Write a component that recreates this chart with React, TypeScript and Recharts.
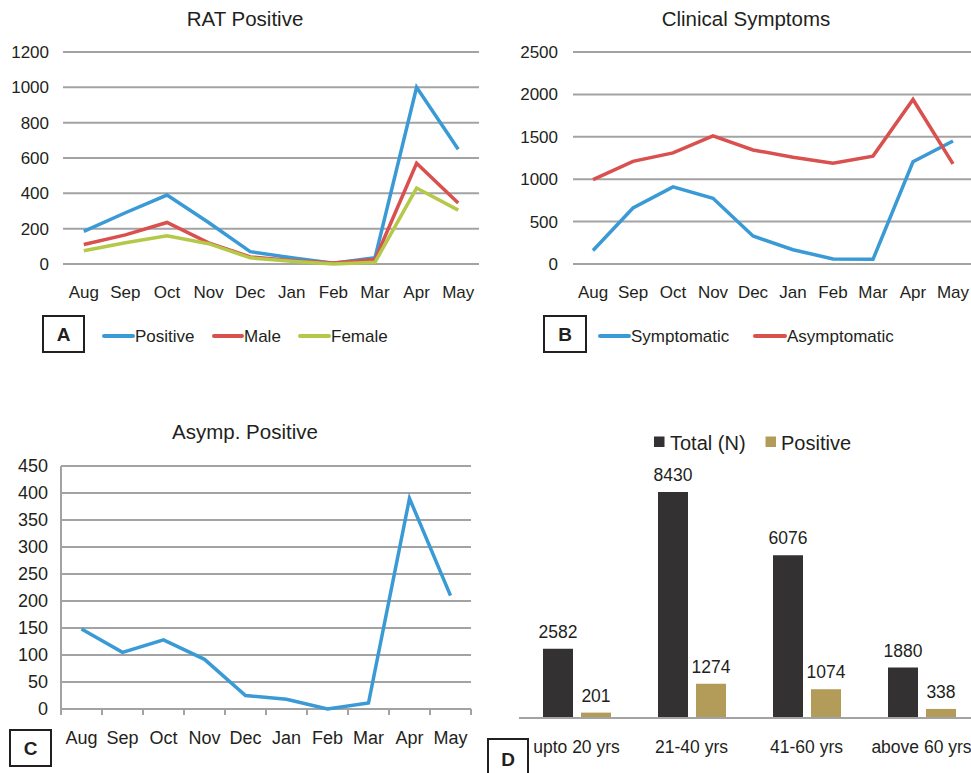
import React from 'react';
import { LineChart, Line, BarChart, Bar, XAxis, YAxis, CartesianGrid, LabelList } from 'recharts';

const months = ['Aug', 'Sep', 'Oct', 'Nov', 'Dec', 'Jan', 'Feb', 'Mar', 'Apr', 'May'];

// Panel A: RAT Positive
const ratPositive = [185, 290, 390, 235, 70, 35, 5, 35, 1000, 650];
const ratMale = [110, 165, 235, 120, 40, 20, 5, 25, 570, 345];
const ratFemale = [75, 120, 160, 115, 35, 15, 0, 10, 430, 305];
const ticksA = [0, 200, 400, 600, 800, 1000, 1200];

// Panel B: Clinical Symptoms
const symptomatic = [160, 660, 910, 775, 330, 168, 60, 55, 1205, 1450];
const asymptomatic = [995, 1210, 1310, 1510, 1345, 1260, 1188, 1272, 1940, 1180];
const ticksB = [0, 500, 1000, 1500, 2000, 2500];

// Panel C: Asymp. Positive
const asympPositive = [148, 105, 128, 92, 25, 18, 0, 11, 390, 210];
const ticksC = [0, 50, 100, 150, 200, 250, 300, 350, 400, 450];

// Panel D: Age groups
const ageGroups = ['upto 20 yrs', '21-40 yrs', '41-60 yrs', 'above 60 yrs'];
const totalN = [2582, 8430, 6076, 1880];
const positiveN = [201, 1274, 1074, 338];

const BLUE = '#3A9AD6';
const RED = '#D9504E';
const GREEN = '#B4C949';
const DARK = '#333132';
const GOLD = '#B39C5A';
const GRID = '#A3A3A3';
const TEXT = '#231F20';
const FONT = '"Liberation Sans", Arial, Helvetica, sans-serif';

const dataA = months.map((m, i) => ({ month: m, Positive: ratPositive[i], Male: ratMale[i], Female: ratFemale[i] }));
const dataB = months.map((m, i) => ({ month: m, Symptomatic: symptomatic[i], Asymptomatic: asymptomatic[i] }));
const dataC = months.map((m, i) => ({ month: m, idx: i + 0.5, value: asympPositive[i] }));
const dataD = ageGroups.map((g, i) => ({ group: g, total: totalN[i], positive: positiveN[i] }));
const boundaryTicks = [0, 1, 2, 3, 4, 5, 6, 7, 8, 9, 10];

const tickStyle = (size: number) => ({ fontSize: size, fill: TEXT, fontFamily: FONT });

const Box = ({ x, y, w, h, label }: { x: number; y: number; w: number; h: number; label: string }) => (
  <g>
    <rect x={x} y={y} width={w} height={h} fill="none" stroke={TEXT} strokeWidth={2} />
    <text x={x + w / 2} y={y + h / 2 + 7} textAnchor="middle" fontSize={19} fontWeight="bold" fill={TEXT} fontFamily={FONT}>
      {label}
    </text>
  </g>
);

const LineKey = ({ x1, x2, y, color, label }: { x1: number; x2: number; y: number; color: string; label: string }) => (
  <g>
    <line x1={x1} x2={x2} y1={y} y2={y} stroke={color} strokeWidth={4} strokeLinecap="round" />
    <text x={x2 + 2} y={y + 6} fontSize={17} fill={TEXT} fontFamily={FONT}>
      {label}
    </text>
  </g>
);

export default function App() {
  return (
    <div style={{ position: 'absolute', left: 0, top: 0, width: 971, height: 773, overflow: 'hidden', background: '#fff', fontFamily: FONT }}>
      {/* Panel A */}
      <div style={{ position: 'absolute', left: 0, top: 0 }}>
        <LineChart width={490} height={310} data={dataA} margin={{ top: 52, right: 11, bottom: 6, left: 0 }}>
          <CartesianGrid vertical={false} stroke={GRID} strokeWidth={2} />
          <XAxis dataKey="month" scale="band" height={40} axisLine={false} tickLine={false} tickSize={0} tickMargin={22} tick={tickStyle(17)} interval={0} />
          <YAxis width={63} domain={[0, 1200]} ticks={ticksA} interval={0} axisLine={false} tickLine={false} tickSize={0} tickMargin={14} tick={tickStyle(17)} />
          <Line type="linear" dataKey="Positive" stroke={BLUE} strokeWidth={3.5} dot={false} isAnimationActive={false} />
          <Line type="linear" dataKey="Male" stroke={RED} strokeWidth={3.5} dot={false} isAnimationActive={false} />
          <Line type="linear" dataKey="Female" stroke={GREEN} strokeWidth={3.5} dot={false} isAnimationActive={false} />
        </LineChart>
      </div>

      {/* Panel B */}
      <div style={{ position: 'absolute', left: 490, top: 0 }}>
        <LineChart width={483} height={310} data={dataB} margin={{ top: 52, right: 0, bottom: 6, left: 0 }}>
          <CartesianGrid vertical={false} stroke={GRID} strokeWidth={2} />
          <XAxis dataKey="month" scale="band" height={40} axisLine={false} tickLine={false} tickSize={0} tickMargin={22} tick={tickStyle(17)} interval={0} />
          <YAxis width={83} domain={[0, 2500]} ticks={ticksB} interval={0} axisLine={false} tickLine={false} tickSize={0} tickMargin={15} tick={tickStyle(17)} />
          <Line type="linear" dataKey="Symptomatic" stroke={BLUE} strokeWidth={3.5} dot={false} isAnimationActive={false} />
          <Line type="linear" dataKey="Asymptomatic" stroke={RED} strokeWidth={3.5} dot={false} isAnimationActive={false} />
        </LineChart>
      </div>

      {/* Panel C */}
      <div style={{ position: 'absolute', left: 0, top: 400 }}>
        <LineChart width={490} height={360} data={dataC} margin={{ top: 66, right: 19, bottom: 10, left: 0 }}>
          <CartesianGrid vertical={false} stroke={GRID} strokeWidth={2} />
          <XAxis xAxisId="bound" type="number" dataKey="idx" domain={[0, 10]} ticks={boundaryTicks} interval={0} height={1} axisLine={false} tickLine={{ stroke: GRID, strokeWidth: 2 }} tickSize={6} tickFormatter={() => ''} />
          <XAxis xAxisId="cat" dataKey="month" scale="band" height={40} axisLine={false} tickLine={false} tickSize={0} tickMargin={21} tick={tickStyle(18)} interval={0} />
          <YAxis width={61} domain={[0, 450]} ticks={ticksC} interval={0} axisLine={{ stroke: GRID, strokeWidth: 2 }} tickLine={false} tickSize={0} tickMargin={13} tick={tickStyle(18)} />
          <Line xAxisId="cat" type="linear" dataKey="value" stroke={BLUE} strokeWidth={3.5} dot={false} isAnimationActive={false} />
        </LineChart>
      </div>

      {/* Panel D */}
      <div style={{ position: 'absolute', left: 490, top: 400 }}>
        <BarChart width={490} height={373} data={dataD} margin={{ top: 50, right: 1, bottom: 15, left: 29 }} barSize={30} barGap={8}>
          <XAxis dataKey="group" height={40} axisLine={{ stroke: GRID, strokeWidth: 2 }} tickLine={false} tickSize={0} tickMargin={23} tick={tickStyle(17.5)} interval={0} />
          <YAxis hide domain={[0, 10000]} />
          <Bar dataKey="total" fill={DARK} isAnimationActive={false}>
            <LabelList dataKey="total" position="top" offset={11} style={{ fontSize: 17.5, fill: TEXT, fontFamily: FONT }} />
          </Bar>
          <Bar dataKey="positive" fill={GOLD} isAnimationActive={false}>
            <LabelList dataKey="positive" position="top" offset={11} style={{ fontSize: 17.5, fill: TEXT, fontFamily: FONT }} />
          </Bar>
        </BarChart>
      </div>

      {/* Overlay: titles, legends, panel letters */}
      <svg width={971} height={773} style={{ position: 'absolute', left: 0, top: 0, pointerEvents: 'none' }}>
        <text x={245} y={26} textAnchor="middle" fontSize={20.5} fill={TEXT} fontFamily={FONT}>RAT Positive</text>
        <text x={746} y={26} textAnchor="middle" fontSize={20.5} fill={TEXT} fontFamily={FONT}>Clinical Symptoms</text>
        <text x={245} y={439} textAnchor="middle" fontSize={20.5} fill={TEXT} fontFamily={FONT}>Asymp. Positive</text>

        <Box x={43} y={316} w={41} h={36} label="A" />
        <LineKey x1={104} x2={133} y={336} color={BLUE} label="Positive" />
        <LineKey x1={214} x2={242} y={336} color={RED} label="Male" />
        <LineKey x1={300} x2={329} y={336} color={GREEN} label="Female" />

        <Box x={544} y={316} w={42} h={36} label="B" />
        <LineKey x1={600} x2={629} y={336} color={BLUE} label="Symptomatic" />
        <LineKey x1={755} x2={785} y={336} color={RED} label="Asymptomatic" />

        <Box x={10} y={730} w={41} h={36} label="C" />
        <Box x={488} y={739} w={40} h={40} label="D" />

        <rect x={654} y={436.5} width={10.5} height={10.5} fill={DARK} />
        <text x={670} y={450} fontSize={20} fill={TEXT} fontFamily={FONT}>Total (N)</text>
        <rect x={765.5} y={436.5} width={10.5} height={10.5} fill={GOLD} />
        <text x={781} y={450} fontSize={20} fill={TEXT} fontFamily={FONT}>Positive</text>
      </svg>
    </div>
  );
}
